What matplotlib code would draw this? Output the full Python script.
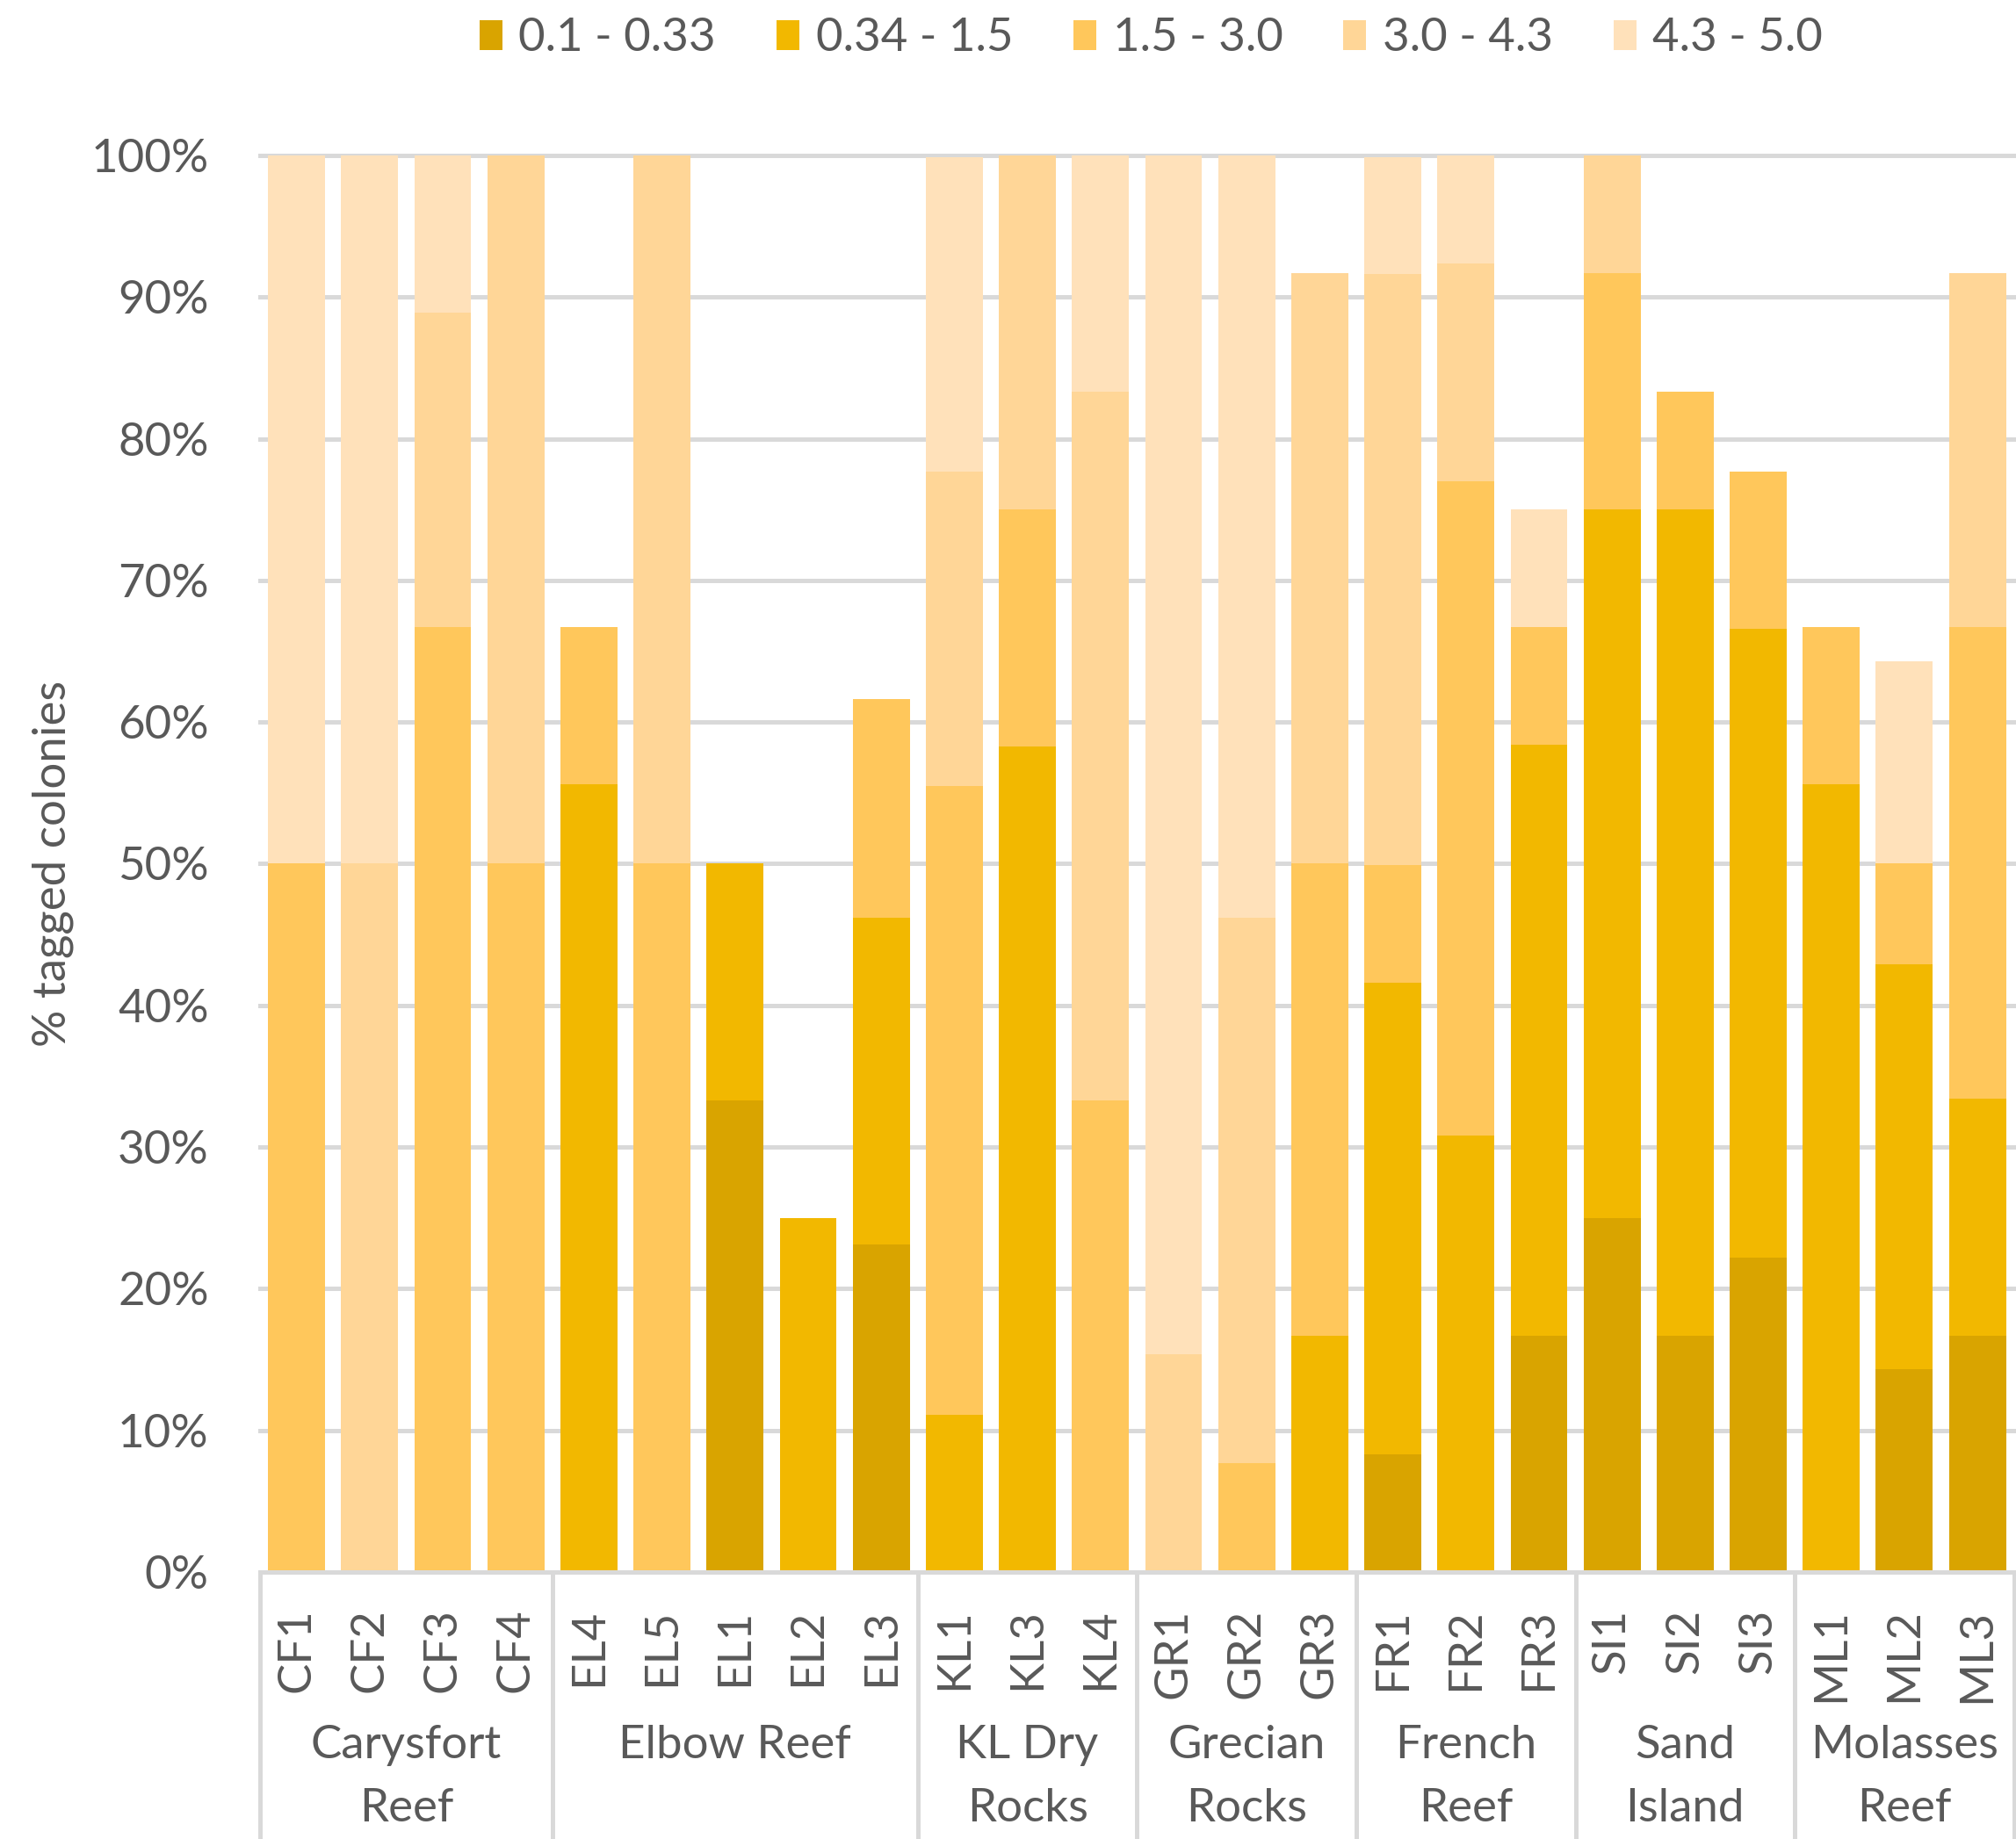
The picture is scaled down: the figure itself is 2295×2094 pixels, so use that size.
import numpy as np
import matplotlib
matplotlib.use("Agg")
import matplotlib.pyplot as plt
from matplotlib.patches import Patch

# sites (x categories) and reef groups
SITES = ["CF1", "CF2", "CF3", "CF4",
         "EL4", "EL5", "EL1", "EL2", "EL3",
         "KL1", "KL3", "KL4",
         "GR1", "GR2", "GR3",
         "FR1", "FR2", "FR3",
         "SI1", "SI2", "SI3",
         "ML1", "ML2", "ML3"]
GROUPS = ["Carysfort\nReef", "Elbow Reef", "KL Dry\nRocks", "Grecian\nRocks",
          "French\nReef", "Sand\nIsland", "Molasses\nReef"]
GROUP_SIZES = [4, 5, 3, 3, 3, 3, 3]

SIZE_CLASSES = ["0.1 - 0.33", "0.34 - 1.5", "1.5 - 3.0", "3.0 - 4.3", "4.3 - 5.0"]

# % tagged colonies per size class
s_01_033 = [0, 0, 0, 0, 0, 0, 33.3, 0, 23.1, 0, 0, 0,
            0, 0, 0, 8.3, 0, 16.7, 25.0, 16.7, 22.2, 0, 14.3, 16.7]
s_034_15 = [0, 0, 0, 0, 55.6, 0, 16.7, 25.0, 23.1, 11.1, 58.3, 0,
            0, 0, 16.7, 33.3, 30.8, 41.7, 50.0, 58.3, 44.4, 55.6, 28.6, 16.7]
s_15_30 = [50.0, 0, 66.7, 50.0, 11.1, 50.0, 0, 0, 15.4, 44.4, 16.7, 33.3,
           0, 7.7, 33.3, 8.3, 46.2, 8.3, 16.7, 8.3, 11.1, 11.1, 7.1, 33.3]
s_30_43 = [0, 50.0, 22.2, 50.0, 0, 50.0, 0, 0, 0, 22.2, 25.0, 50.0,
           15.4, 38.5, 41.7, 41.7, 15.4, 0, 8.3, 0, 0, 0, 0, 25.0]
s_43_50 = [50.0, 50.0, 11.1, 0, 0, 0, 0, 0, 0, 22.2, 0, 16.7,
           84.6, 53.8, 0, 8.3, 7.7, 8.3, 0, 0, 0, 0, 14.3, 0]

COLORS = ["#D9A400", "#F2B800", "#FFC75B", "#FFD697", "#FFE1BA"]
TEXT = "#595959"
GRID = "#D9D9D9"

plt.rcParams["font.family"] = ["Lato", "DejaVu Sans"]
FS = 38

fig = plt.figure(figsize=(22.95, 20.94), dpi=100)
ax = fig.add_axes([0.129, 0.1452, 0.870, 0.7703])

x = np.arange(len(SITES))
series = [s_01_033, s_034_15, s_15_30, s_30_43, s_43_50]
bottom = np.zeros(len(SITES))
for vals, col, lab in zip(series, COLORS, SIZE_CLASSES):
    vals = np.array(vals)
    ax.bar(x, vals, width=0.78, bottom=bottom, color=col, label=lab, zorder=3)
    bottom += vals

ax.set_xlim(-0.5, len(SITES) - 0.5)
ax.set_ylim(0, 100)
ax.set_yticks(range(0, 101, 10))
ax.set_yticklabels([f"{v}%" for v in range(0, 101, 10)])
ax.yaxis.grid(True, color=GRID, lw=3.6, zorder=0)
for gl in ax.get_ygridlines():
    gl.set_clip_on(False)
ax.set_axisbelow(True)
for s in ["top", "left", "right"]:
    ax.spines[s].set_visible(False)
ax.spines["bottom"].set_color(GRID)
ax.spines["bottom"].set_linewidth(3.6)
ax.spines["bottom"].set_zorder(4)
ax.tick_params(axis="y", length=0, labelsize=FS, labelcolor=TEXT, pad=42)
ax.tick_params(axis="x", length=0, labelsize=FS, labelcolor=TEXT, pad=30)
ax.set_xticks(x)
ax.set_xticklabels(SITES, rotation=90)
ax.set_ylabel("% tagged colonies", fontsize=FS, color=TEXT)
ax.yaxis.set_label_coords(-0.106, 0.5)

# group separators and group labels
edges = np.concatenate([[0], np.cumsum(GROUP_SIZES)]) - 0.5
trans = ax.get_xaxis_transform()
for e in edges:
    ax.plot([e, e], [0, -0.19], transform=trans, color=GRID, lw=3.6,
            clip_on=False, solid_capstyle="butt")
for name, lo, hi in zip(GROUPS, edges[:-1], edges[1:]):
    ax.text((lo + hi) / 2, -0.108, name, transform=trans, ha="center", va="top",
            fontsize=FS, color=TEXT, linespacing=1.65)

handles = [Patch(facecolor=c, label=l) for c, l in zip(COLORS, SIZE_CLASSES)]
fig.legend(handles=handles, loc="center", bbox_to_anchor=(0.571, 0.979), ncol=5,
           frameon=False, fontsize=FS, labelcolor=TEXT, handlelength=0.5,
           handleheight=0.6, handletextpad=0.35, columnspacing=1.3,
           borderaxespad=0)

fig.savefig("out.png", dpi=100, facecolor="white")
